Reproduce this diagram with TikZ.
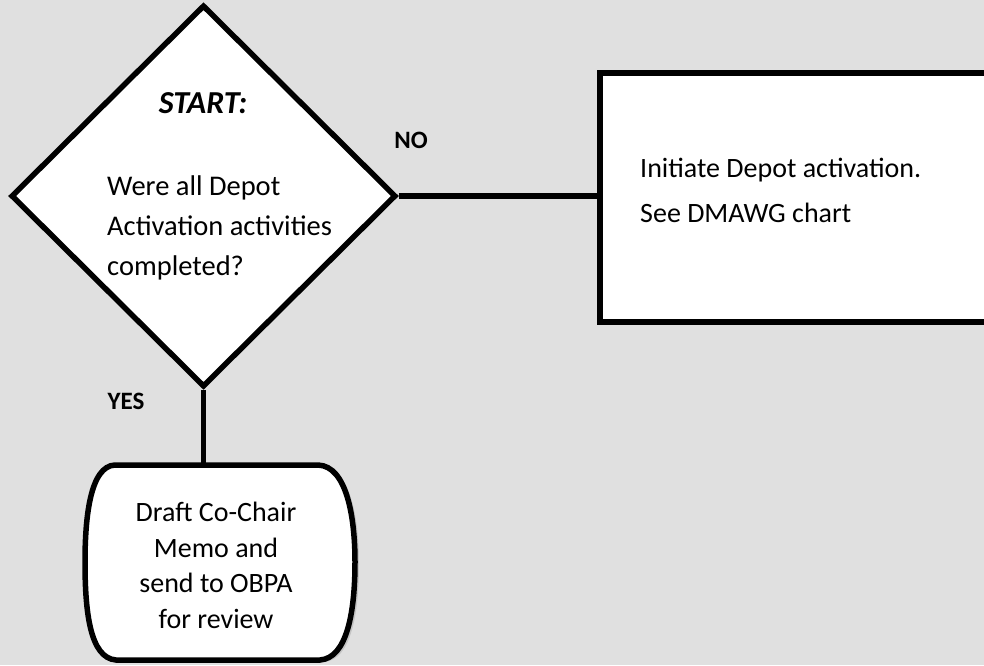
\documentclass[tikz,border=0pt]{standalone}
\usepackage{fontspec}
\setmainfont{Carlito}
\usetikzlibrary{shapes.geometric}
\definecolor{bgpanel}{HTML}{E0E0E0}
\definecolor{shadowgray}{HTML}{C4C4C4}
\tikzset{
  outline/.style={draw=black, line width=5.5pt, fill=white, line join=miter},
  link/.style={draw=black, line width=5.5pt},
  bodytext/.style={font=\fontsize{28.5}{40}\selectfont, inner sep=0pt, anchor=base west},
  centertext/.style={font=\fontsize{28}{35.5}\selectfont, inner sep=0pt, align=center},
  answer/.style={font=\fontsize{25}{30}\selectfont\bfseries, inner sep=0pt}
}
\begin{document}
\begin{tikzpicture}[x=1pt, y=-1pt]
  % canvas
  \fill[bgpanel] (0,0) rectangle (984,665);
  \useasboundingbox (0,0) rectangle (984,665);
  \clip (0,0) rectangle (984,665);

  % decision diamond
  \node[diamond, outline, inner sep=0pt, minimum width=385pt, minimum height=382pt] (dia) at (203.5,196) {};
  \node[font=\fontsize{32}{40}\selectfont\bfseries\itshape, inner sep=0pt, anchor=base] (start) at (203,113) {START:};
  \node[bodytext] (q1) at (107,195) {Were all Depot};
  \node[bodytext] (q2) at (107,235) {Activation activities};
  \node[bodytext] (q3) at (107,275) {completed?};

  % process box (runs past the right edge)
  \node[draw=black, line width=5.5pt, fill=white, inner sep=0pt, minimum width=420pt, minimum height=249pt, anchor=north west] (act) at (597,70) {};
  \node[bodytext, font=\fontsize{28}{40}\selectfont] (a1) at (640,177) {Initiate Depot activation.};
  \node[bodytext, font=\fontsize{28}{40}\selectfont] (a2) at (640,222) {See DMAWG chart};

  % terminal shape with soft shadow
  \begin{scope}[shift={(4,2)}]
    \fill[shadowgray] (115,465) -- (318,465)
      .. controls (347,466) and (355,518) .. (355,562)
      .. controls (355,612) and (347,658) .. (320,660)
      -- (116,660)
      .. controls (90,658) and (85,612) .. (85,562)
      .. controls (85,518) and (90,466) .. (115,465) -- cycle;
  \end{scope}
  \path[outline] (115,465) -- (318,465)
    .. controls (347,466) and (355,518) .. (355,562)
    .. controls (355,612) and (347,658) .. (320,660)
    -- (116,660)
    .. controls (90,658) and (85,612) .. (85,562)
    .. controls (85,518) and (90,466) .. (115,465) -- cycle;
  \coordinate (termtop) at (203.5,465);
  \node[centertext, anchor=base] (term) at (216,628)
    {Draft Co-Chair\\Memo and\\send to OBPA\\for review};

  % connectors
  \draw[link] (dia.east) -- (dia.east -| act.west);
  \draw[link] (dia.south) -- (termtop);

  % branch labels
  \node[answer] (no) at (411,140) {NO};
  \node[answer] (yes) at (126,401) {YES};
\end{tikzpicture}
\end{document}
